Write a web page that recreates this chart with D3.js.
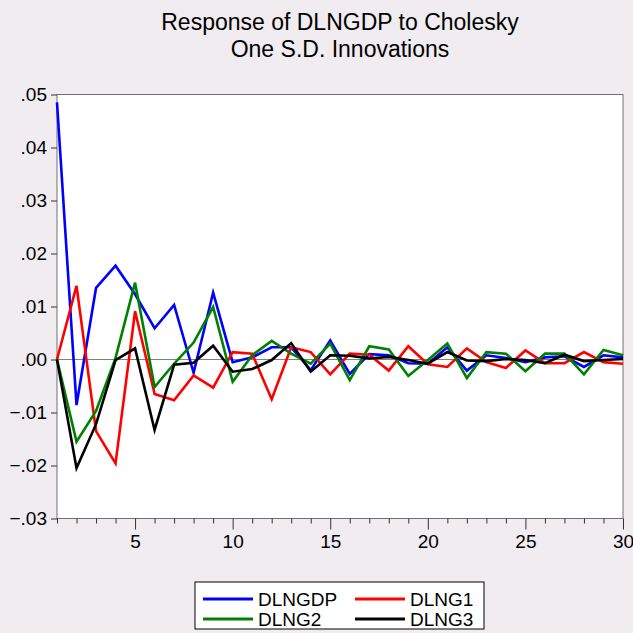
<!DOCTYPE html>
<html>
<head>
<meta charset="utf-8">
<script src="https://cdn.jsdelivr.net/npm/d3@7.9.0/dist/d3.min.js"></script>
<style>
  body { margin: 0; background: #f0ecf0; }
  svg { display: block; font-family: "Liberation Sans", Arial, sans-serif; }
</style>
</head>
<body>
<svg id="chart" width="633" height="633"></svg>
<script>
// periods 1..30
const periods = d3.range(1, 31);

const dlngdp = [0.0485, -0.0086, 0.0135, 0.0177, 0.0123, 0.0059, 0.0103, -0.0025, 0.0126, -0.0005,
  0.0004, 0.0023, 0.0023, -0.0020, 0.0036, -0.0027, 0.0010, 0.0008, -0.0007, -0.0008,
  0.0023, -0.0021, 0.0008, 0.0003, -0.0005, 0.0004, 0.0006, -0.0014, 0.0008, 0.0004];
const dlng1 = [0.0000, 0.0139, -0.0135, -0.0196, 0.0091, -0.0065, -0.0077, -0.0030, -0.0053, 0.0014,
  0.0011, -0.0075, 0.0023, 0.0014, -0.0028, 0.0011, 0.0009, -0.0021, 0.0025, -0.0009,
  -0.0014, 0.0021, -0.0005, -0.0016, 0.0017, -0.0007, -0.0007, 0.0014, -0.0005, -0.0008];
const dlng2 = [0.0000, -0.0155, -0.0097, 0.0003, 0.0145, -0.0052, -0.0008, 0.0032, 0.0099, -0.0042,
  0.0008, 0.0035, 0.0011, -0.0008, 0.0030, -0.0039, 0.0025, 0.0019, -0.0031, -0.0001,
  0.0030, -0.0035, 0.0014, 0.0011, -0.0022, 0.0011, 0.0011, -0.0028, 0.0018, 0.0008];
const dlng3 = [0.0000, -0.0205, -0.0122, -0.0001, 0.0021, -0.0133, -0.0010, -0.0006, 0.0026, -0.0023,
  -0.0018, -0.0001, 0.0031, -0.0023, 0.0008, 0.0007, 0.0002, 0.0005, -0.0001, -0.0008,
  0.0014, -0.0002, -0.0003, 0.0001, -0.0001, -0.0007, 0.0009, -0.0003, -0.0001, 0.0001];

const seriesNames = ["DLNGDP", "DLNG1", "DLNG2", "DLNG3"];
const seriesValues = [dlngdp, dlng1, dlng2, dlng3];
const seriesColors = ["#0000ff", "#ff0000", "#008000", "#000000"];
const yTicks = [0.05, 0.04, 0.03, 0.02, 0.01, 0, -0.01, -0.02, -0.03];
const xMajor = [5, 10, 15, 20, 25, 30];

const svg = d3.select("#chart");
const plotLeft = 57, plotRight = 623, plotTop = 94.5, plotBottom = 518.5;

let x = d3.scaleLinear().domain([1, 30]).range([plotLeft, plotRight]);
let y = d3.scaleLinear().domain([-0.03, 0.05]).range([plotBottom, plotTop]);

// title
svg.append("text")
  .attr("x", 340).attr("y", 30)
  .attr("text-anchor", "middle")
  .attr("font-size", 23)
  .text("Response of DLNGDP to Cholesky");
svg.append("text")
  .attr("x", 340).attr("y", 57)
  .attr("text-anchor", "middle")
  .attr("font-size", 23)
  .text("One S.D. Innovations");

// plot area
svg.append("rect")
  .attr("x", plotLeft).attr("y", plotTop)
  .attr("width", plotRight - plotLeft).attr("height", plotBottom - plotTop)
  .attr("fill", "#fff")
  .attr("stroke", "#707070");

// y axis
let yAxis = d3.axisLeft(y)
  .tickValues(yTicks)
  .tickSize(6)
  .tickPadding(4)
  .tickFormat((d) => d3.format(".2f")(d).replace("0.", "."));
let gy = svg.append("g").attr("transform", `translate(${plotLeft},0)`).call(yAxis);
gy.select(".domain").remove();
gy.selectAll("text").attr("font-size", 19).attr("fill", "#000").attr("font-family", "Liberation Sans, Arial, sans-serif");
gy.selectAll("line").attr("stroke", "#333");

// x axis: minor ticks at each period, long ticks every 5
let xAxis = d3.axisBottom(x)
  .tickValues(periods)
  .tickSize(5)
  .tickFormat((d) => xMajor.includes(d) ? d : "");
let gx = svg.append("g").attr("transform", `translate(0,${plotBottom})`).call(xAxis);
gx.select(".domain").remove();
gx.selectAll(".tick line")
  .attr("stroke", "#333")
  .attr("y2", (d) => xMajor.includes(d) ? 11 : 5);
gx.selectAll("text")
  .attr("y", 16)
  .attr("font-size", 19).attr("fill", "#000").attr("font-family", "Liberation Sans, Arial, sans-serif");

// zero line
svg.append("line")
  .attr("x1", plotLeft).attr("x2", plotRight)
  .attr("y1", y(0)).attr("y2", y(0))
  .attr("stroke", "#808080").attr("stroke-width", 1.2);

// lines
let line = d3.line()
  .x((d, i) => x(periods[i]))
  .y((d) => y(d));

seriesValues.forEach((vals, i) => {
  svg.append("path")
    .datum(vals)
    .attr("d", line)
    .attr("fill", "none")
    .attr("stroke", seriesColors[i])
    .attr("stroke-width", 2.6)
    .attr("stroke-linejoin", "miter");
});

// legend
let legend = svg.append("g").attr("transform", "translate(195,582)");
legend.append("rect")
  .attr("width", 289).attr("height", 47)
  .attr("fill", "#fff").attr("stroke", "#000");
seriesNames.forEach((name, i) => {
  let col = i % 2, row = Math.floor(i / 2);
  let g = legend.append("g").attr("transform", `translate(${8 + col * 152},${17 + row * 20})`);
  g.append("line")
    .attr("x1", 0).attr("x2", 50)
    .attr("stroke", seriesColors[i]).attr("stroke-width", 3);
  g.append("text")
    .attr("x", 55).attr("y", 7)
    .attr("font-size", 19)
    .text(name);
});
</script>
</body>
</html>
